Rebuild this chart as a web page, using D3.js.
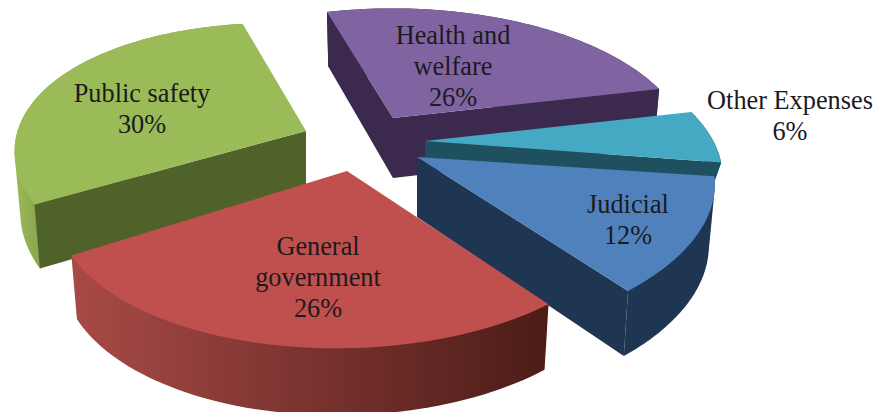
<!DOCTYPE html>
<html>
<head>
<meta charset="utf-8">
<script src="https://cdn.jsdelivr.net/npm/d3@7/dist/d3.min.js"></script>
<style>
  html, body { margin: 0; padding: 0; background: #fff; }
  svg { display: block; }
  text { font-family: "Liberation Serif", "Times New Roman", serif; font-size: 26.3px; fill: #1c1a1e; text-anchor: middle; }
</style>
</head>
<body>
<svg id="chart" width="877" height="412"></svg>
<script>
// Budget shares, clockwise from the back of the pie
const categories = ["Health and welfare", "Other Expenses", "Judicial", "General government", "Public safety"];
const shares = [26, 6, 12, 26, 30];
const labelLines = [["Health and", "welfare"], ["Other Expenses"], ["Judicial"], ["General", "government"], ["Public safety"]];

// Colours: top face, flat side wall
const topColors = ["#8064a2", "#46a9c3", "#4f81bd", "#c0504d", "#9bbb59"];
const wallColors = ["#3b2a4e", "#1f5060", "#1f3652", "#6e2c2a", "#4f6229"];

// Layout of the exploded slices: hub, small turn, radius trim, perspective skew, wall scale, label anchor
const hubX = [393, 425, 417, 347, 306];
const hubY = [118, 141, 157, 171, 131];
const sliceTurn = [-0.5, -0.5, -1.5, 1.5, -1];
const sliceRadius = [1.015, 1.015, 1.03, 0.985, 0.99];
const skewX = [0, 0, -18, -5, -4];
const skewY = [0, 0, 0, -2, 17];
const wallScale = [1, 0.28, 1, 1, 1];
const labelX = [453, 790, 628, 318, 142];
const labelY = [44, 109, 213, 255, 102];
const lineGap = 31;

// Perspective model of the tilted disc
const radiusX = 284, radiusY = 135, tilt = 0.25, baseDepth = 60, depthTilt = 0.15, floorShrink = 0.98;
const rad = d => d * Math.PI / 180;

const svg = d3.select("#chart");
const defs = svg.append("defs");

function addHorizontalGradient(id, x1, x2, from, to) {
  const g = defs.append("linearGradient").attr("id", id)
    .attr("gradientUnits", "userSpaceOnUse")
    .attr("x1", x1).attr("x2", x2).attr("y1", 0).attr("y2", 0);
  g.append("stop").attr("offset", 0).attr("stop-color", from);
  g.append("stop").attr("offset", 1).attr("stop-color", to);
}
addHorizontalGradient("wall-general", 72, 548, "#a84a47", "#4c1c17");
addHorizontalGradient("wall-safety", 13, 44, "#9dbb5a", "#86a14c");

const pieLayout = d3.pie().value(d => d).sort(null).startAngle(rad(-16)).endAngle(rad(344));
const arcs = pieLayout(shares);

// Maps a point of the unit disc to the screen; level 0 is the top face, 1 the underside.
function project(i, ux, uy, level) {
  const w = 1 - tilt * uy;
  const shrink = (1 - (1 - floorShrink) * level) * sliceRadius[i];
  const depth = wallScale[i] * baseDepth / (1 - depthTilt * uy);
  const px = ux / w, py = uy / w;
  return [
    hubX[i] + (radiusX * px + skewX[i] * py) * shrink,
    hubY[i] + (radiusY * py + skewY[i] * px) * shrink + level * depth
  ];
}

const rimPoints = (i, a0, a1, level) =>
  d3.range(0, 61).map(t => {
    const a = a0 + (a1 - a0) * t / 60;
    return project(i, Math.sin(a), -Math.cos(a), level);
  });

const outline = d3.line().curve(d3.curveLinear);
const closed = pts => outline(pts) + "Z";

// Back-to-front paint order keeps the overlaps right
const paintOrder = [0, 4, 1, 2, 3];

paintOrder.forEach(i => {
  const a0 = arcs[i].startAngle + rad(sliceTurn[i]);
  const a1 = arcs[i].endAngle + rad(sliceTurn[i]);
  const g = svg.append("g").attr("class", "slice").attr("data-category", categories[i]);

  const rimTop = rimPoints(i, a0, a1, 0);
  const rimLow = rimPoints(i, a0, a1, 1);
  const hubTop = project(i, 0, 0, 0);
  const hubLow = project(i, 0, 0, 1);

  // The outer wall is the hull of both rims; the top and cut faces cover its inner part
  const rimFill = i === 3 ? "url(#wall-general)" : i === 4 ? "url(#wall-safety)" : wallColors[i];
  g.append("path").attr("d", closed(d3.polygonHull(rimTop.concat(rimLow)))).attr("fill", rimFill);

  // Radial cut faces, only where they turn towards the viewer
  if (Math.sin(a0) < 0) {
    g.append("path")
      .attr("d", closed([hubTop, rimTop[0], rimLow[0], hubLow]))
      .attr("fill", wallColors[i]);
  }
  if (Math.sin(a1) > 0) {
    const k = rimTop.length - 1;
    g.append("path")
      .attr("d", closed([hubTop, rimTop[k], rimLow[k], hubLow]))
      .attr("fill", wallColors[i]);
  }

  g.append("path").attr("d", closed([hubTop].concat(rimTop))).attr("fill", topColors[i]);
});

// Labels go on last, above every slice
paintOrder.forEach(i => {
  const lines = labelLines[i].concat(shares[i] + "%");
  const t = svg.append("text");
  lines.forEach((line, n) => {
    t.append("tspan").attr("x", labelX[i]).attr("y", labelY[i] + n * lineGap).text(line);
  });
});
</script>
</body>
</html>
